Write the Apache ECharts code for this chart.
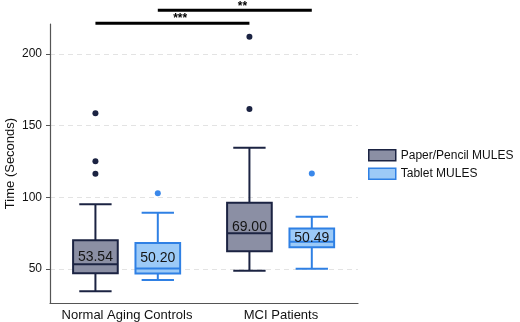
<!DOCTYPE html>
<html>
<head>
<meta charset="utf-8">
<style>
  html, body { margin: 0; padding: 0; background: #fff; }
  #chart { width: 520px; height: 322px; }
</style>
<script src="https://cdn.jsdelivr.net/npm/echarts@6/dist/echarts.min.js"></script>
</head>
<body>
<div id="chart"></div>
<script>
// categories and groups
const categories = ['Normal Aging Controls', 'MCI Patients']
const seriesNames = ['Paper/Pencil MULES', 'Tablet MULES']

// box stats per category: [min, Q1, median, Q3, max]
const paperStats = [
  [34.5, 47.0, 53.3, 70.1, 95.1],
  [48.8, 62.4, 74.9, 96.3, 134.5]
]
const tabletStats = [
  [42.3, 46.8, 50.3, 68.1, 89.3],
  [50.2, 65.1, 69.0, 78.2, 86.5]
]

// labels shown inside the boxes
const paperLabels = ['53.54', '69.00']
const tabletLabels = ['50.20', '50.49']

// outliers: [categoryIndex, value]
const paperOutliers = [[0, 158.6], [0, 125.2], [0, 116.4], [1, 212.0], [1, 161.6]]
const tabletOutliers = [[0, 102.8], [1, 116.7]]

// significance brackets
const sigFromCat = [0, 0]
const sigToCat = [1, 1]
const sigSeries = [0, 1]
const sigValues = [221.5, 230.5]
const sigStars = ['***', '**']

const yTicks = [50, 100, 150, 200]

const styles = [
  { fill: '#8b8fa4', stroke: '#1b2342', dot: '#1b2342', offset: -0.205 },
  { fill: '#9ccaf7', stroke: '#2f80e4', dot: '#3a88ea', offset: 0.2 }
]

const font = '"Liberation Sans", Arial, sans-serif'

function boxRender(s, labels) {
  return function (params, api) {
    const i = api.value(0)
    const band = api.size([1, 0])[0]
    const cx = api.coord([i, 0])[0] + band * s.offset
    const w = band * 0.29
    const cap = band * 0.21
    const y = [1, 2, 3, 4, 5].map(k => api.coord([i, api.value(k)])[1])
    const line = { stroke: s.stroke, lineWidth: 2 }
    return {
      type: 'group',
      children: [
        { type: 'line', shape: { x1: cx, y1: y[0], x2: cx, y2: y[1] }, style: line },
        { type: 'line', shape: { x1: cx, y1: y[3], x2: cx, y2: y[4] }, style: line },
        { type: 'line', shape: { x1: cx - cap / 2, y1: y[0], x2: cx + cap / 2, y2: y[0] }, style: line },
        { type: 'line', shape: { x1: cx - cap / 2, y1: y[4], x2: cx + cap / 2, y2: y[4] }, style: line },
        { type: 'rect', shape: { x: cx - w / 2, y: y[3], width: w, height: y[1] - y[3] },
          style: { fill: s.fill, stroke: s.stroke, lineWidth: 2 } },
        { type: 'line', shape: { x1: cx - w / 2, y1: y[2], x2: cx + w / 2, y2: y[2] }, style: line },
        { type: 'text', x: cx, y: (y[1] + y[3]) / 2,
          style: { text: labels[i], fill: '#151515', font: '14px ' + font,
            align: 'center', verticalAlign: 'middle' } }
      ]
    }
  }
}

function dotRender(s) {
  return function (params, api) {
    const band = api.size([1, 0])[0]
    const p = api.coord([api.value(0), api.value(1)])
    return {
      type: 'circle',
      shape: { cx: p[0] + band * s.offset, cy: p[1], r: 3 },
      style: { fill: s.dot }
    }
  }
}

function sigRender(params, api) {
  const band = api.size([1, 0])[0]
  const off = styles[api.value(2)].offset * band
  const a = api.coord([api.value(0), api.value(3)])
  const b = api.coord([api.value(1), api.value(3)])
  const x1 = a[0] + off
  const x2 = b[0] + off
  return {
    type: 'group',
    children: [
      { type: 'line', shape: { x1: x1, y1: a[1], x2: x2, y2: a[1] }, style: { stroke: '#000', lineWidth: 3 } },
      { type: 'text', x: x1 + (x2 - x1) * 0.55, y: a[1] - 10,
        style: { text: sigStars[params.dataIndex], fill: '#000', font: 'bold 12px ' + font,
          align: 'center', verticalAlign: 'top' } }
    ]
  }
}

const chart = echarts.init(document.getElementById('chart'))

const option = {
  animation: false,
  grid: { left: 50, right: 162, top: 24, bottom: 19, outerBoundsMode: 'none' },
  legend: {
    orient: 'vertical',
    left: 368,
    top: 149,
    padding: 0,
    itemWidth: 27,
    itemHeight: 11,
    itemGap: 6,
    textStyle: { fontFamily: font, fontSize: 12, color: '#111' },
    data: seriesNames.map((n, k) => ({
      name: n,
      icon: 'rect',
      itemStyle: { color: styles[k].fill, borderColor: styles[k].stroke, borderWidth: 1.5 }
    }))
  },
  xAxis: {
    type: 'category',
    data: categories,
    axisLine: { lineStyle: { color: '#555', width: 1.2 } },
    axisTick: { show: false },
    axisLabel: { interval: 0, fontFamily: font, fontSize: 13, color: '#111', margin: 6 }
  },
  yAxis: {
    type: 'value',
    min: 26.3,
    max: 220.9,
    name: 'Time (Seconds)',
    nameLocation: 'middle',
    nameGap: 33,
    nameMoveOverlap: false,
    nameTextStyle: { fontFamily: font, fontSize: 13, color: '#111' },
    axisLine: { show: true, lineStyle: { color: '#555', width: 1.2 } },
    axisTick: { show: true, length: 4, customValues: yTicks, lineStyle: { color: '#555' } },
    axisLabel: { customValues: yTicks, fontFamily: font, fontSize: 12, color: '#111', margin: 8 },
    splitLine: { show: true, lineStyle: { color: '#e3e3e3', type: [5, 4] } }
  },
  series: [
    {
      name: seriesNames[0], type: 'custom', renderItem: boxRender(styles[0], paperLabels),
      itemStyle: { color: styles[0].fill },
      data: paperStats.map((d, i) => [i].concat(d))
    },
    {
      name: seriesNames[1], type: 'custom', renderItem: boxRender(styles[1], tabletLabels),
      itemStyle: { color: styles[1].fill },
      data: tabletStats.map((d, i) => [i].concat(d))
    },
    {
      name: seriesNames[0], type: 'custom', renderItem: dotRender(styles[0]),
      data: paperOutliers
    },
    {
      name: seriesNames[1], type: 'custom', renderItem: dotRender(styles[1]),
      data: tabletOutliers
    },
    {
      name: 'sig', type: 'custom', renderItem: sigRender, clip: false,
      data: sigValues.map((v, i) => [sigFromCat[i], sigToCat[i], sigSeries[i], v])
    }
  ]
}

chart.setOption(option)
</script>
</body>
</html>
